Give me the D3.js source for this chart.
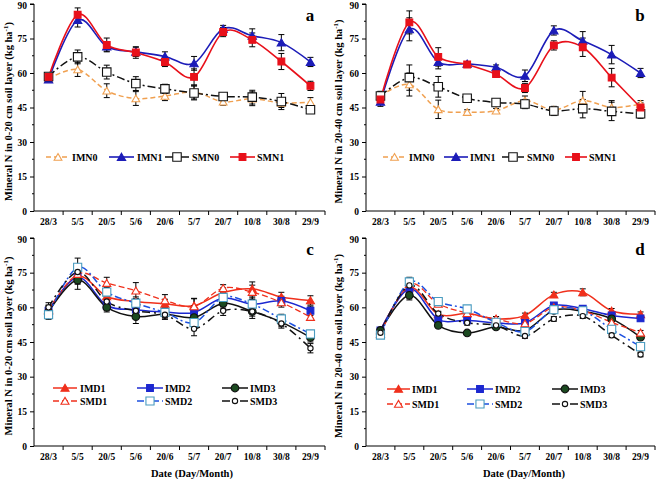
<!DOCTYPE html>
<html><head><meta charset="utf-8">
<script src="https://cdn.jsdelivr.net/npm/d3@7"></script>
<style>
body{margin:0;background:#fff}
svg{display:block}
text{font-family:"Liberation Serif","Times New Roman",serif;font-weight:bold;fill:#000}
</style>
</head><body>
<svg id="chart" width="656" height="479"></svg>
<script>
// ---------- DATA ----------
const dates = ["28/3","5/5","20/5","5/6","20/6","5/7","20/7","10/8","30/8","29/9"];
const yTickValues = [0,15,30,45,60,75,90];

// Panel a (0-20 cm)
const aIMN0 = [57.5,61.5,52.3,48.9,50.0,51.7,47.5,48.8,47.0,47.3];
const aIMN0Err = [1,3,3,3,2,3,1.5,3,2,2];
const aIMN1 = [57.2,83.0,71.5,69.2,67.2,64.2,79.2,76.2,73.2,64.8];
const aIMN1Err = [1,3,2,2,2,3,1.5,3,3.5,2];
const aSMN0 = [58.5,67.0,60.4,55.4,53.1,51.3,49.8,49.5,47.6,44.0];
const aSMN0Err = [1,3,3,3,2,3,1,3,3.5,1.5];
const aSMN1 = [58.3,85.3,72.2,68.9,64.8,58.3,77.8,74.4,65.0,54.4];
const aSMN1Err = [1,3,3,2.5,2,3.5,2,3,3.5,2];

// Panel b (20-40 cm)
const bIMN0 = [50.0,55.0,44.2,43.0,43.6,48.0,44.0,48.0,45.0,46.5];
const bIMN0Err = [2,5,4,1,1,2,1,4,3,1.5];
const bIMN1 = [47.5,79.0,64.8,64.0,62.5,58.8,78.5,74.0,68.0,60.0];
const bIMN1Err = [2,5,3,1,1,2.5,2,4,4,2];
const bSMN0 = [50.0,58.0,54.0,49.0,47.2,46.5,43.5,44.5,43.3,42.3];
const bSMN0Err = [2,5.5,4.5,1,1,2,2,4,4,2];
const bSMN1 = [48.5,82.0,67.0,63.7,59.5,53.5,72.0,71.2,58.0,45.0];
const bSMN1Err = [2,5,4,1,1,2,2,4,4,2];

// Panel c (0-20 cm)
const cIMD1 = [58.6,73.5,64.7,62.5,61.5,60.7,66.4,68.0,64.5,63.0];
const cIMD1Err = [2,3,2,2,2,3,2,3,2,2];
const cIMD2 = [58.5,73.0,60.8,59.0,58.0,57.8,64.0,61.4,62.8,58.5];
const cIMD2Err = [2,3,2,2,2,3,2,3,2,2];
const cIMD3 = [58.0,71.8,60.0,56.0,57.0,55.6,61.7,58.2,53.6,47.0];
const cIMD3Err = [2,4,2,3,2,3,2,3,2,2];
const cSMD1 = [59.0,74.4,70.5,67.2,63.0,60.4,68.3,66.6,62.1,55.8];
const cSMD1Err = [2,3,2.5,3.5,2.5,3.5,1.5,3,2,1.5];
const cSMD2 = [56.8,77.3,66.6,61.8,57.8,53.4,64.3,61.4,55.0,48.5];
const cSMD2Err = [2,4,2,2,2,3,2,2,2,1.5];
const cSMD3 = [60.0,75.3,62.5,58.5,56.8,50.7,58.5,58.2,53.0,42.3];
const cSMD3Err = [2,3,2,2,2,3,2,2,2,2];

// Panel d (20-40 cm)
const dIMD1 = [50.0,68.5,57.0,57.3,55.0,56.5,65.5,66.5,58.5,57.0];
const dIMD1Err = [1,2,1,1,1,1,1,1.5,1,1];
const dIMD2 = [50.0,68.0,54.8,54.4,53.3,53.3,60.8,59.4,56.5,55.2];
const dIMD2Err = [1,2,1,1,1,1,1,1,1,1];
const dIMD3 = [50.0,65.2,52.2,48.9,51.5,50.0,58.7,58.3,55.0,47.1];
const dIMD3Err = [1,2,1,1,1,1,1,1,1,1];
const dSMD1 = [48.5,70.0,61.5,57.5,55.0,53.0,60.0,58.5,53.5,49.0];
const dSMD1Err = [1,2,1,1,1,1,1,1,1,1];
const dSMD2 = [48.0,71.0,62.5,59.3,53.5,49.5,59.0,58.5,50.5,43.0];
const dSMD2Err = [1,2,1,1,1,1,1,1,1,1];
const dSMD3 = [49.0,69.5,57.3,53.3,52.2,47.6,55.0,56.2,47.9,39.6];
const dSMD3Err = [1,2,1,1,1,1,1,1,1,1];

// ---------- STYLES ----------
const styles = {
  IMN0:{line:"#f0a050",dash:"5,3",sym:d3.symbolTriangle,size:26,fill:"#fff",stroke:"#f0a050",sw:1.5},
  IMN1:{line:"#1c1cb8",dash:null,sym:d3.symbolTriangle,size:30,fill:"#1c1cb8",stroke:"#1c1cb8",sw:1.6},
  SMN0:{line:"#111",dash:"8,3,2,3",sym:d3.symbolSquare,size:72,fill:"#fff",stroke:"#111",sw:1.5},
  SMN1:{line:"#e8101a",dash:null,sym:d3.symbolSquare,size:46,fill:"#e8101a",stroke:"#e8101a",sw:1.6},
  IMD1:{line:"#f0301c",dash:null,sym:d3.symbolTriangle,size:28,fill:"#f0301c",stroke:"#f0301c",sw:1.5},
  IMD2:{line:"#1c28d0",dash:null,sym:d3.symbolSquare,size:46,fill:"#1c28d0",stroke:"#1c28d0",sw:1.5},
  IMD3:{line:"#111",dash:null,sym:d3.symbolCircle,size:46,fill:"#1b4a20",stroke:"#111",sw:1.5},
  SMD1:{line:"#f0301c",dash:"6,3",sym:d3.symbolTriangle,size:28,fill:"#fff",stroke:"#f0301c",sw:1.3},
  SMD2:{line:"#1c50e0",dash:"7,3,2,3",sym:d3.symbolSquare,size:66,fill:"#fff",stroke:"#4a9cc0",sw:1.5},
  SMD3:{line:"#111",dash:"8,4,2,4",sym:d3.symbolCircle,size:22,fill:"#fff",stroke:"#111",sw:1.5}
};

const panels = [
  {letter:"a", x0:34, x1:325, yTop:4, yBot:211, title:"Mineral N in 0-20 cm soil layer (kg ha", titleX:8, xTitle:false,
   series:[["IMN0",aIMN0,aIMN0Err],["IMN1",aIMN1,aIMN1Err],["SMN0",aSMN0,aSMN0Err],["SMN1",aSMN1,aSMN1Err]],
   legend:{rows:[[0,1,2,3]], cols:[[12,36,38],[75,100,103],[131,155,158],[196,221,223]], rowY:[153]}},
  {letter:"b", x0:366, x1:655, yTop:4, yBot:211, title:"Mineral N in 20-40 cm soil layer (kg ha", titleX:338, xTitle:false,
   series:[["IMN0",bIMN0,bIMN0Err],["IMN1",bIMN1,bIMN1Err],["SMN0",bSMN0,bSMN0Err],["SMN1",bSMN1,bSMN1Err]],
   legend:{rows:[[0,1,2,3]], cols:[[17,40,43],[78,102,104],[136,158,161],[199,221,223]], rowY:[153]}},
  {letter:"c", x0:34, x1:325, yTop:238, yBot:446, title:"Mineral N in 0-20 cm soil layer (kg ha", titleX:8, xTitle:true, xTitleX:192,
   series:[["IMD1",cIMD1,cIMD1Err],["IMD2",cIMD2,cIMD2Err],["IMD3",cIMD3,cIMD3Err],["SMD1",cSMD1,cSMD1Err],["SMD2",cSMD2,cSMD2Err],["SMD3",cSMD3,cSMD3Err]],
   legend:{rows:[[0,1,2],[3,4,5]], cols:[[19,43,46],[103,129,131],[188,214,216]], rowY:[150,163]}},
  {letter:"d", x0:366, x1:655, yTop:238, yBot:446, title:"Mineral N in 20-40 cm soil layer (kg ha", titleX:338, xTitle:true, xTitleX:524,
   series:[["IMD1",dIMD1,dIMD1Err],["IMD2",dIMD2,dIMD2Err],["IMD3",dIMD3,dIMD3Err],["SMD1",dSMD1,dSMD1Err],["SMD2",dSMD2,dSMD2Err],["SMD3",dSMD3,dSMD3Err]],
   legend:{rows:[[0,1,2],[3,4,5]], cols:[[21,44,46],[101,127,129],[186,212,214]], rowY:[151,166]}}
];

const svg = d3.select("#chart");

panels.forEach(p => {
  const g = svg.append("g");
  const x = d3.scaleBand().domain(dates).range([p.x0, p.x1]).paddingInner(0).paddingOuter(0);
  const cx = d => x(d) + x.bandwidth()/2;
  const y = d3.scaleLinear().domain([0,90]).range([p.yBot, p.yTop]);

  // Y axis
  const ya = g.append("g").attr("transform",`translate(${p.x0},0)`)
    .call(d3.axisLeft(y).tickValues(yTickValues).tickSize(4).tickPadding(3).tickFormat(d3.format("d")));
  ya.select(".domain").attr("stroke","#000").attr("d",`M-4,${p.yTop}H0V${p.yBot}`);
  ya.selectAll("text").style("font-size","9.5px").style("font-family",'"Liberation Serif",serif').style("font-weight","bold")
    .attr("dy", d => d===90 ? "0.5em" : "0.32em");
  g.append("g").selectAll("line").data(d3.range(7.5,90,15)).join("line")
    .attr("x1",p.x0-2).attr("x2",p.x0).attr("y1",d=>y(d)).attr("y2",d=>y(d)).attr("stroke","#000");

  // X axis
  const xa = g.append("g").attr("transform",`translate(0,${p.yBot})`)
    .call(d3.axisBottom(x).tickSize(0).tickPadding(7));
  xa.select(".domain").attr("stroke","#000").attr("d",`M${p.x0},0H${p.x1}`);
  xa.selectAll("text").style("font-size","9.5px").style("font-family",'"Liberation Serif",serif').style("font-weight","bold");
  g.append("g").selectAll("line").data(dates.slice(1).concat(["__end"])).join("line")
    .attr("x1",d=> d==="__end" ? p.x1 : x(d)).attr("x2",d=> d==="__end" ? p.x1 : x(d))
    .attr("y1",p.yBot).attr("y2",p.yBot+4).attr("stroke","#000");

  // Y title
  const ty = g.append("text")
    .attr("transform",`translate(${p.titleX+4},${(p.yTop+p.yBot)/2+4}) rotate(-90)`)
    .attr("text-anchor","middle").style("font-size","10.5px");
  ty.append("tspan").text(p.title);
  ty.append("tspan").attr("dy",-4).style("font-size","7px").text("-1");
  ty.append("tspan").attr("dy",4).text(")");

  if (p.xTitle) {
    g.append("text").attr("x",p.xTitleX).attr("y",p.yBot+31).attr("text-anchor","middle")
      .style("font-size","10.5px").text("Date (Day/Month)");
  }

  g.append("text").attr("x",p.x1-15).attr("y",p.yTop+17).attr("text-anchor","middle")
    .style("font-size","17px").text(p.letter);

  const line = d3.line().x((d,i)=>cx(dates[i])).y(d=>y(d)).curve(d3.curveCardinal.tension(0));

  p.series.forEach(([name, vals, errs]) => {
    const s = styles[name];
    const sg = g.append("g");
    sg.append("path").attr("d", line(vals)).attr("fill","none").attr("stroke",s.line)
      .attr("stroke-width",s.sw).attr("stroke-dasharray",s.dash);
    const eb = sg.append("g").attr("stroke","#000").attr("stroke-width",1);
    vals.forEach((v,i) => {
      const X = cx(dates[i]);
      const y1 = y(v+errs[i]), y2 = y(v-errs[i]);
      eb.append("line").attr("x1",X).attr("x2",X).attr("y1",y1).attr("y2",y2);
      eb.append("line").attr("x1",X-3).attr("x2",X+3).attr("y1",y1).attr("y2",y1);
      eb.append("line").attr("x1",X-3).attr("x2",X+3).attr("y1",y2).attr("y2",y2);
    });
  });
  p.series.forEach(([name, vals]) => {
    const s = styles[name];
    g.append("g").selectAll("path").data(vals).join("path")
      .attr("d", d3.symbol().type(s.sym).size(s.size))
      .attr("transform",(d,i)=>`translate(${cx(dates[i])},${y(d)+(s.sym===d3.symbolTriangle?1:0)})`)
      .attr("fill",s.fill).attr("stroke",s.stroke).attr("stroke-width",1.1);
  });

  const lg = g.append("g");
  p.legend.rows.forEach((row, ri) => {
    row.forEach((si, ci) => {
      const [name] = p.series[si];
      const s = styles[name];
      const [a,b,t] = p.legend.cols[ci];
      const ly = p.yTop + p.legend.rowY[ri];
      lg.append("line").attr("x1",p.x0+a).attr("x2",p.x0+b).attr("y1",ly).attr("y2",ly)
        .attr("stroke",s.line).attr("stroke-width",s.sw).attr("stroke-dasharray",s.dash);
      lg.append("path").attr("d",d3.symbol().type(s.sym).size(s.size))
        .attr("transform",`translate(${p.x0+(a+b)/2},${ly+(s.sym===d3.symbolTriangle?1:0)})`)
        .attr("fill",s.fill).attr("stroke",s.stroke).attr("stroke-width",1.1);
      lg.append("text").attr("x",p.x0+t).attr("y",ly+3.5).style("font-size","10px").text(name);
    });
  });
});
</script>
</body></html>
